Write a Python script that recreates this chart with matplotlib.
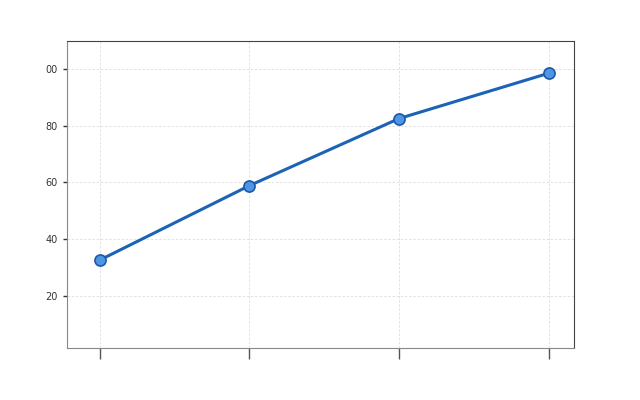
import numpy as np
import matplotlib.pyplot as plt

# values
x_pos = [0, 1, 2, 3]
values = [32.6, 58.9, 82.6, 98.6]
y_ticks = [20, 40, 60, 80, 100]
y_tick_labels = ["20", "40", "60", "80", "00"]

fig = plt.figure(figsize=(6.4, 4.0), dpi=100)
ax = fig.add_axes([0.1047, 0.13, 0.7923, 0.7675])

ax.plot(x_pos, values, color="#1c63b5", linewidth=2.2, marker="o",
        markersize=8, markerfacecolor="#4f95e6", markeredgecolor="#1d58a8",
        markeredgewidth=1.2, zorder=3)

ax.set_xlim(-0.22, 3.17)
ax.set_ylim(1.5, 110)
ax.set_xticks(x_pos)
ax.set_xticklabels([""] * len(x_pos))
ax.set_yticks(y_ticks)
ax.set_yticklabels(y_tick_labels)

ax.grid(True, linestyle=(0, (3, 2)), color="#dddddd", linewidth=0.6)
ax.tick_params(axis="y", length=3, width=1, color="#333333", labelsize=7, labelcolor="#333333")
ax.tick_params(axis="x", length=8, width=1, color="#555555")
for side in ["left", "bottom"]:
    ax.spines[side].set_color("#888888")
for side in ["top", "right"]:
    ax.spines[side].set_color("#444444")

fig.savefig("out.png", dpi=100)
